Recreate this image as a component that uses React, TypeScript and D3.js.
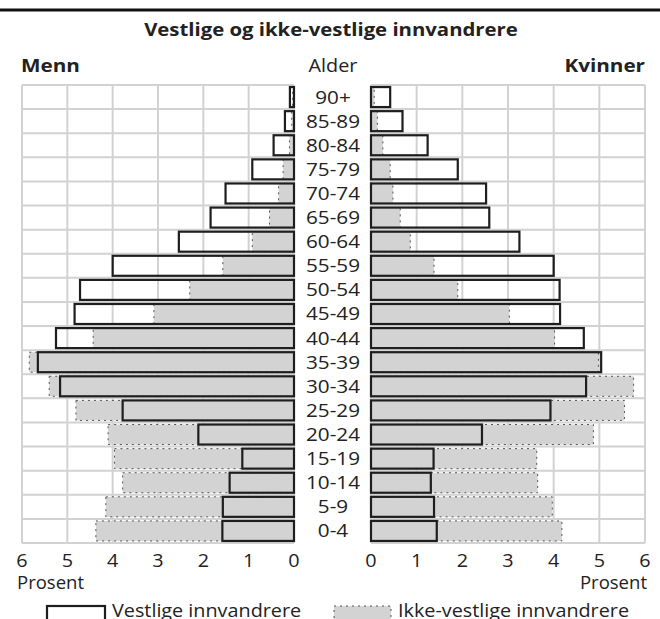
import React from "react";
import * as d3 from "d3";

const ages = ["0-4","5-9","10-14","15-19","20-24","25-29","30-34","35-39","40-44","45-49","50-54","55-59","60-64","65-69","70-74","75-79","80-84","85-89","90+"];
const menVestlige = [1.58,1.57,1.42,1.14,2.11,3.78,5.16,5.65,5.25,4.84,4.72,4.0,2.54,1.84,1.51,0.92,0.45,0.2,0.09];
const menIkke = [4.37,4.15,3.78,3.96,4.1,4.81,5.4,5.84,4.43,3.09,2.3,1.57,0.92,0.54,0.34,0.24,0.1,0.05,0.03];
const womenVestlige = [1.44,1.38,1.31,1.37,2.43,3.93,4.71,5.04,4.66,4.14,4.13,4.0,3.25,2.59,2.52,1.9,1.24,0.69,0.42];
const womenIkke = [4.18,3.97,3.65,3.63,4.87,5.55,5.75,4.98,4.02,3.03,1.9,1.38,0.86,0.64,0.48,0.42,0.26,0.14,0.07];
const ticks = [0,1,2,3,4,5,6];

const FONT = "'Open Sans', 'DejaVu Sans', sans-serif";
const GRID = "#d2d2d2";
const GRAY = "#d3d3d4";
const INK = "#222";

type TProps = { x: number; y: number; sx?: number; anchor?: string; size?: number; bold?: boolean; dy?: string; children: React.ReactNode };
function T({ x, y, sx = 1.1, anchor = "start", size = 18, bold = false, dy, children }: TProps) {
  return (
    <text transform={`translate(${x},${y}) scale(${sx},1)`} dy={dy} textAnchor={anchor} fontSize={size}
      fontWeight={bold ? "bold" : "normal"} fill={INK}>{children}</text>
  );
}

export default function App() {
  const W = 660, H = 619;
  const top = 85, bottom = 543;
  const xL = d3.scaleLinear().domain([0, 6]).range([294, 22]);
  const xR = d3.scaleLinear().domain([0, 6]).range([371, 645]);
  const y = d3.scaleBand<string>().domain([...ages].reverse()).range([top, bottom]).paddingInner(0.17).paddingOuter(0.085);
  const rowEdges = d3.range(ages.length + 1).map(i => top + i * ((bottom - top) / ages.length));

  const panel = (x: d3.ScaleLinear<number, number>, vest: number[], ikke: number[], key: string) => {
    const x0 = x(0), x6 = x(6);
    const lo = Math.min(x0, x6), hi = Math.max(x0, x6);
    return (
      <g key={key}>
        {ticks.map(t => (
          <line key={"v" + t} x1={x(t)} x2={x(t)} y1={top} y2={bottom} stroke={GRID} strokeWidth={2} />
        ))}
        {rowEdges.map((yy, i) => (
          <line key={"h" + i} x1={lo} x2={hi} y1={yy} y2={yy} stroke={GRID} strokeWidth={2} />
        ))}
        {ages.map((a, i) => {
          const xa = x(ikke[i]);
          return (
            <rect key={"ik" + a} x={Math.min(x0, xa)} y={y(a)} width={Math.abs(xa - x0)} height={y.bandwidth()}
              fill={GRAY} stroke="#555" strokeWidth={1} strokeDasharray="2,4" />
          );
        })}
        {ages.map((a, i) => {
          const xa = x(vest[i]);
          return (
            <rect key={"ve" + a} x={Math.min(x0, xa)} y={y(a)} width={Math.abs(xa - x0)} height={y.bandwidth()}
              fill="none" stroke="#1e1e1e" strokeWidth={2.2} />
          );
        })}
        {ticks.map(t => (
          <T key={"t" + t} x={x(t)} y={567} anchor="middle">{t}</T>
        ))}
      </g>
    );
  };

  return (
    <svg width={W} height={H} style={{ position: "absolute", left: 0, top: 0, background: "#fff" }} fontFamily={FONT}>
      <rect x={0} y={0} width={W} height={H} fill="#fff" />
      <line x1={0} x2={W} y1={10} y2={10} stroke="#111" strokeWidth={3} />
      <T x={331} y={36} anchor="middle" bold sx={1.13}>Vestlige og ikke-vestlige innvandrere</T>
      <T x={21} y={72} bold sx={1.15}>Menn</T>
      <T x={333} y={72} anchor="middle">Alder</T>
      <T x={645} y={72} anchor="end" bold sx={1.15}>Kvinner</T>
      {panel(xL, menVestlige, menIkke, "m")}
      {panel(xR, womenVestlige, womenIkke, "w")}
      {ages.map(a => (
        <T key={"a" + a} x={333} y={(y(a) as number) + y.bandwidth() / 2} dy="0.36em" anchor="middle" sx={1.15}>{a}</T>
      ))}
      <T x={17} y={589} sx={1.03}>Prosent</T>
      <T x={647} y={589} anchor="end" sx={1.03}>Prosent</T>
      <rect x={47} y={606} width={58} height={24} fill="#fff" stroke="#1e1e1e" strokeWidth={2.2} />
      <T x={112} y={617}>Vestlige innvandrere</T>
      <rect x={334} y={606} width={57} height={24} fill={GRAY} stroke="#555" strokeWidth={1} strokeDasharray="2,4" />
      <T x={398} y={617}>Ikke-vestlige innvandrere</T>
    </svg>
  );
}
